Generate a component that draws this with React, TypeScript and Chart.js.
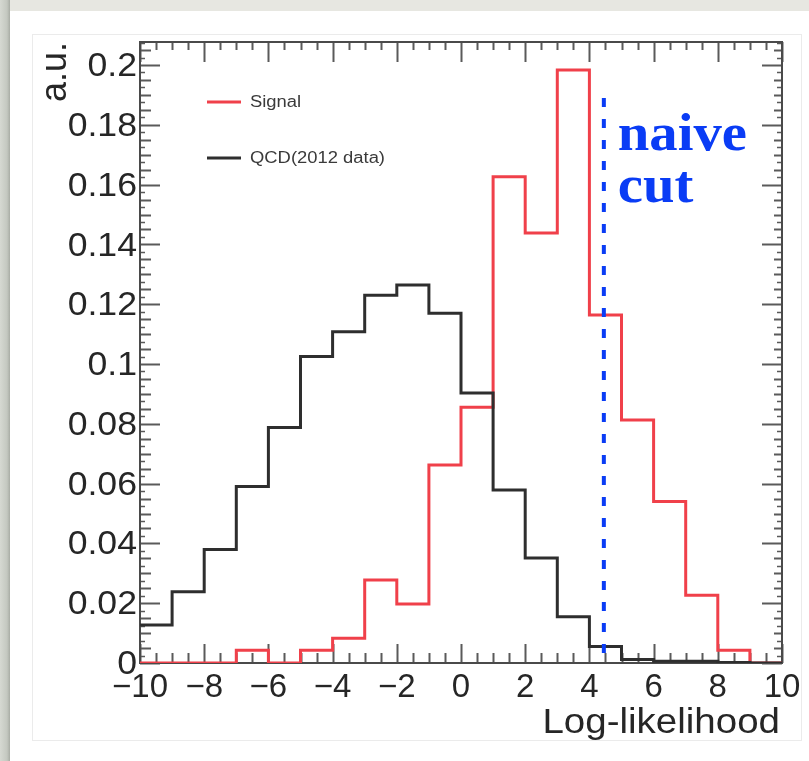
import React, { useEffect, useRef } from "react";
import { Chart, registerables } from "chart.js";

Chart.register(...registerables);

// ---- data ----
const binEdges = [-10, -9, -8, -7, -6, -5, -4, -3, -2, -1, 0, 1, 2, 3, 4, 5, 6, 7, 8, 9, 10];
const signalValues = [0, 0, 0, 0.0043, 0, 0.0043, 0.0083, 0.0278, 0.0197, 0.0662, 0.0855, 0.1626, 0.1438, 0.1983, 0.1164, 0.0813, 0.054, 0.0227, 0.0043, 0];
const qcdValues = [0.0127, 0.0238, 0.038, 0.059, 0.0788, 0.1025, 0.1108, 0.123, 0.1264, 0.117, 0.0903, 0.0579, 0.0351, 0.0155, 0.0055, 0.0012, 0.0006, 0.0006, 0.0002, 0];
const cutPosition = 4.45;
const cutTop = 0.189;
const xTickValues = [-10, -8, -6, -4, -2, 0, 2, 4, 6, 8, 10];
const xTickLabels = ["\u221210", "\u22128", "\u22126", "\u22124", "\u22122", "0", "2", "4", "6", "8", "10"];
const yTickValues = [0, 0.02, 0.04, 0.06, 0.08, 0.1, 0.12, 0.14, 0.16, 0.18, 0.2];
const yTickLabels = ["0", "0.02", "0.04", "0.06", "0.08", "0.1", "0.12", "0.14", "0.16", "0.18", "0.2"];
const legendLabels = ["Signal", "QCD(2012 data)"];
const xTitle = "Log-likelihood";
const yTitle = "a.u.";
const cutText = ["naive", "cut"];
const xMin = -10;
const xMax = 10;
const yMin = 0;
const yMax = 0.2077;

const SIGNAL_COLOR = "#f0404a";
const QCD_COLOR = "#2e2e2e";
const CUT_COLOR = "#0a3cf5";

function histPoints(values: number[]) {
  const pts = values.map((v, i) => ({ x: binEdges[i], y: v }));
  pts.push({ x: binEdges[binEdges.length - 1], y: values[values.length - 1] });
  return pts;
}

function stretchedText(
  ctx: CanvasRenderingContext2D,
  text: string,
  x: number,
  y: number,
  align: CanvasTextAlign,
  sx: number
) {
  ctx.save();
  ctx.translate(x, y);
  ctx.scale(sx, 1);
  ctx.textAlign = align;
  ctx.fillText(text, 0, 0);
  ctx.restore();
}

const rootStyle = {
  id: "rootStyle",
  beforeDatasetsDraw(chart: any) {
    const ctx: CanvasRenderingContext2D = chart.ctx;
    const { left, right, top, bottom } = chart.chartArea;
    const xs = chart.scales.x;
    const ys = chart.scales.y;
    ctx.save();
    // ticks
    ctx.strokeStyle = "#5a5a5a";
    ctx.lineCap = "butt";
    // y ticks
    for (let k = 0; k * 0.0025 <= yMax + 1e-9; k++) {
      const v = k * 0.0025;
      const py = Math.round(ys.getPixelForValue(v)) + 0.5;
      let lenL = 5, lenR = 5, lw = 1.5;
      if (k % 8 === 0) { lenL = 20; lenR = 20; lw = 2; }
      else if (k % 2 === 0) { lenL = 11; lenR = 8; lw = 2; }
      ctx.lineWidth = lw;
      ctx.beginPath();
      ctx.moveTo(left, py); ctx.lineTo(left + lenL, py);
      ctx.moveTo(right, py); ctx.lineTo(right - lenR, py);
      ctx.stroke();
    }
    // x ticks
    for (let k = 0; k <= 40; k++) {
      const v = xMin + k * 0.5;
      const px = Math.round(xs.getPixelForValue(v)) + 0.5;
      let lenB = 10, lenT = 8, lw = 2;
      if (k % 4 === 0) { lenB = 19; lenT = 20; }
      ctx.lineWidth = lw;
      ctx.beginPath();
      ctx.moveTo(px, bottom); ctx.lineTo(px, bottom - lenB);
      ctx.moveTo(px, top); ctx.lineTo(px, top + lenT);
      ctx.stroke();
    }
    // frame
    ctx.strokeStyle = "#4a4a4a";
    ctx.lineWidth = 2;
    ctx.strokeRect(left, top, right - left, bottom - top);

    // tick labels
    ctx.fillStyle = "#262626";
    ctx.font = '33px "Liberation Sans", Arial, sans-serif';
    ctx.textBaseline = "middle";
    yTickValues.forEach((v, i) => {
      const py = ys.getPixelForValue(v);
      stretchedText(ctx, yTickLabels[i], left - 3, py + 2, "right", 1.08);
    });
    xTickValues.forEach((v, i) => {
      const px = xs.getPixelForValue(v);
      stretchedText(ctx, xTickLabels[i], px, bottom + 25, "center", 1.0);
    });
    // axis titles
    ctx.textBaseline = "alphabetic";
    ctx.font = '35px "Liberation Sans", Arial, sans-serif';
    stretchedText(ctx, xTitle, right - 2, bottom + 70, "right", 1.1);
    ctx.save();
    ctx.translate(66, top);
    ctx.rotate(-Math.PI / 2);
    ctx.font = '36px "Liberation Sans", Arial, sans-serif';
    ctx.textAlign = "right";
    ctx.fillText(yTitle, 0, 0);
    ctx.restore();
    ctx.restore();
  },
  afterDatasetsDraw(chart: any) {
    const ctx: CanvasRenderingContext2D = chart.ctx;
    ctx.save();
    // legend
    const legendColors = [SIGNAL_COLOR, QCD_COLOR];
    const legendY = [102, 158];
    legendLabels.forEach((lab, i) => {
      ctx.strokeStyle = legendColors[i];
      ctx.lineWidth = 3;
      ctx.beginPath();
      ctx.moveTo(207, legendY[i]);
      ctx.lineTo(241, legendY[i]);
      ctx.stroke();
      ctx.fillStyle = "#3a3a3a";
      ctx.font = '16px "Liberation Sans", Arial, sans-serif';
      ctx.textBaseline = "middle";
      stretchedText(ctx, lab, 250, legendY[i] + 1, "left", 1.15);
    });
    // naive cut text
    const xs = chart.scales.x;
    const tx = xs.getPixelForValue(cutPosition) + 14;
    ctx.fillStyle = CUT_COLOR;
    ctx.font = 'bold 52px "Liberation Serif", "Times New Roman", serif';
    ctx.textBaseline = "alphabetic";
    stretchedText(ctx, cutText[0], tx, 150, "left", 1.09);
    stretchedText(ctx, cutText[1], tx, 202, "left", 1.09);
    ctx.restore();
  },
};

export default function App() {
  const canvasRef = useRef<HTMLCanvasElement | null>(null);

  useEffect(() => {
    const canvas = canvasRef.current;
    if (!canvas) return;
    const chart = new Chart(canvas, {
      type: "line",
      data: {
        datasets: [
          {
            label: "naive cut",
            data: [{ x: cutPosition, y: cutTop }, { x: cutPosition, y: 0 }],
            borderColor: CUT_COLOR,
            borderWidth: 4,
            borderDash: [9, 12],
            pointRadius: 0,
            order: 0,
          },
          {
            label: legendLabels[1],
            data: histPoints(qcdValues),
            borderColor: QCD_COLOR,
            borderWidth: 3,
            stepped: true,
            pointRadius: 0,
            fill: false,
            order: 1,
          },
          {
            label: legendLabels[0],
            data: histPoints(signalValues),
            borderColor: SIGNAL_COLOR,
            borderWidth: 3,
            stepped: true,
            pointRadius: 0,
            fill: false,
            order: 2,
          },
        ],
      },
      options: {
        animation: false,
        responsive: false,
        devicePixelRatio: 1,
        layout: { padding: { left: 140, top: 42, right: 27, bottom: 98 } },
        plugins: { legend: { display: false }, tooltip: { enabled: false } },
        elements: { line: { tension: 0 } },
        scales: {
          x: { type: "linear", min: xMin, max: xMax, display: false },
          y: { type: "linear", min: yMin, max: yMax, display: false },
        },
      },
      plugins: [rootStyle],
    });
    return () => chart.destroy();
  }, []);

  return (
    <div
      style={{
        position: "fixed",
        left: 0,
        top: 0,
        width: 809,
        height: 761,
        background: "#e7e7e1",
        overflow: "hidden",
      }}
    >
      <div
        style={{
          position: "absolute",
          left: 0,
          top: 0,
          width: 10,
          height: 761,
          background: "linear-gradient(to right, #d6d9d2, #c4c8c0 70%, #a8aca4)",
        }}
      />
      <div style={{ position: "absolute", left: 10, top: 11, right: 0, bottom: 0, background: "#ffffff" }} />
      <div
        style={{
          position: "absolute",
          left: 32,
          top: 34,
          width: 770,
          height: 707,
          border: "1px solid #ebebeb",
          boxSizing: "border-box",
        }}
      />
      <canvas
        ref={canvasRef}
        width={809}
        height={761}
        style={{ position: "absolute", left: 0, top: 0, width: 809, height: 761 }}
      />
    </div>
  );
}
